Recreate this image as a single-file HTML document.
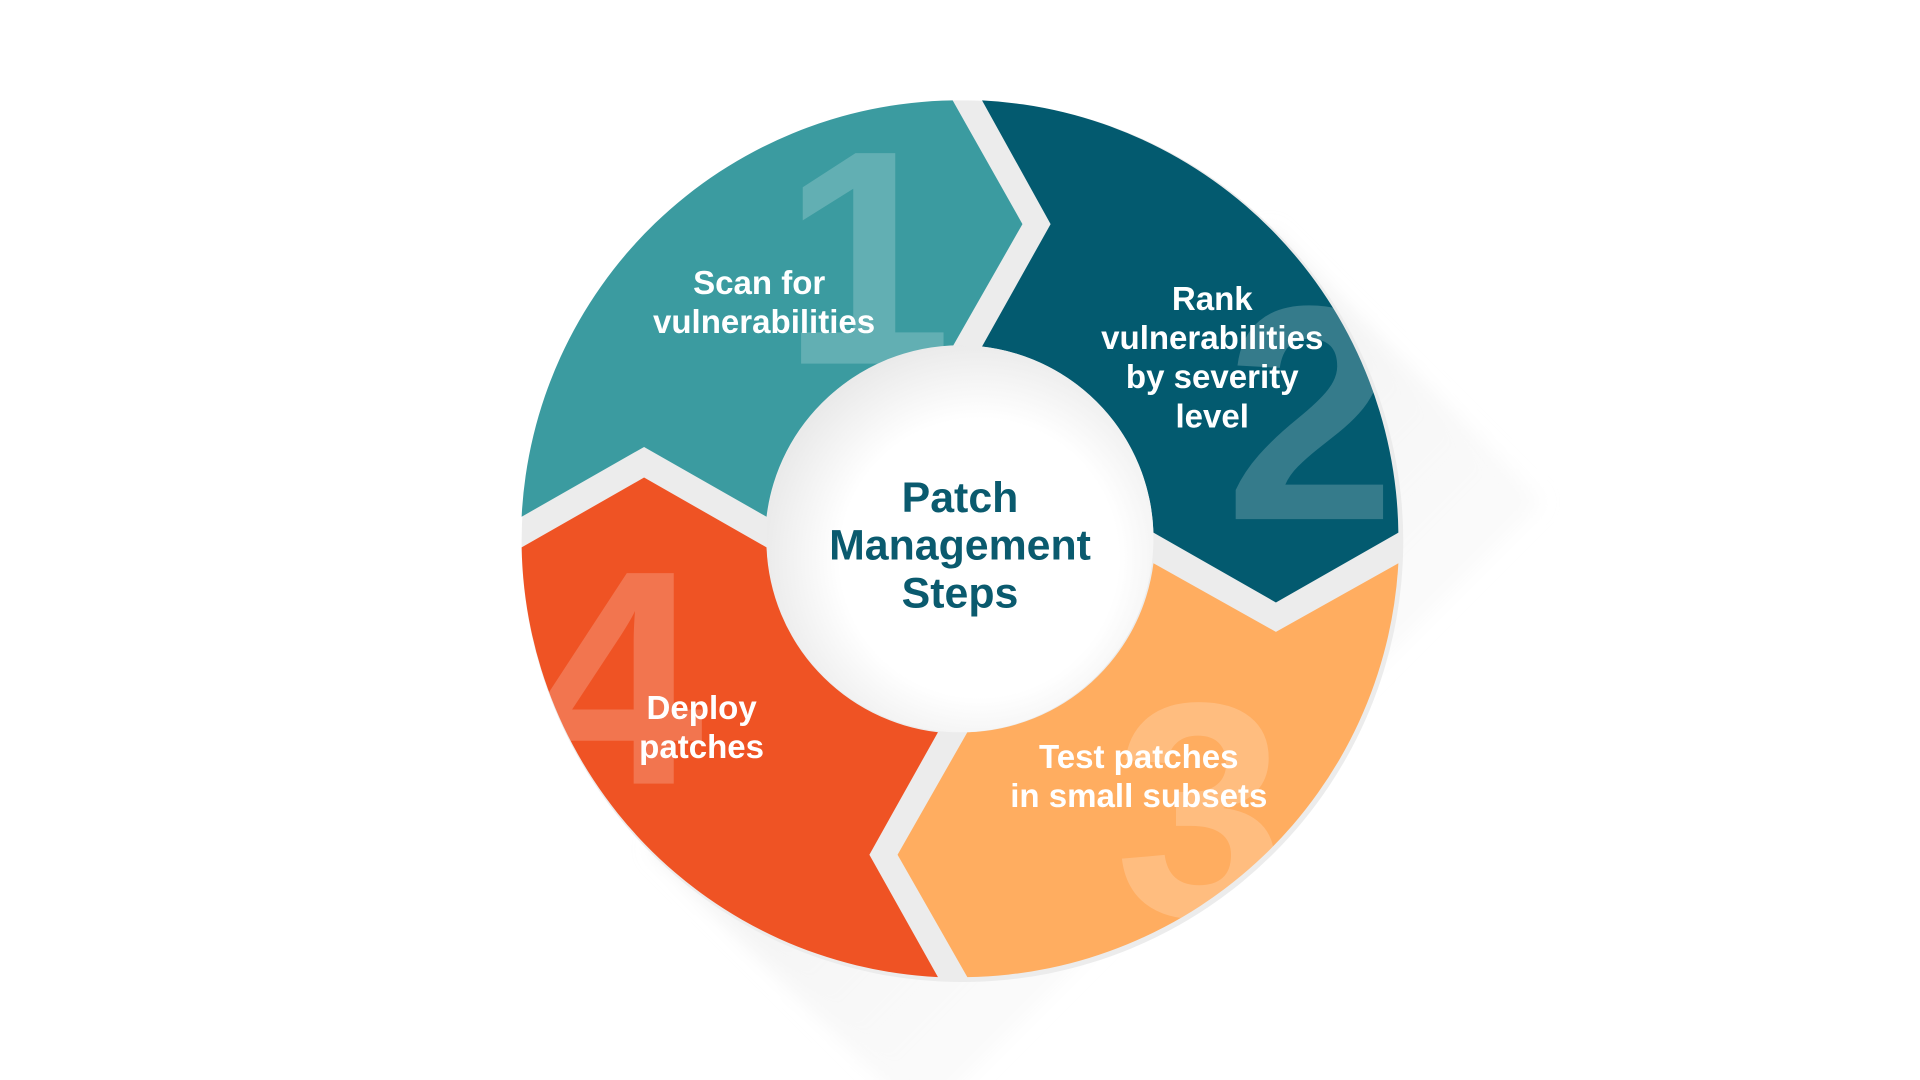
<!DOCTYPE html>
<html><head><meta charset="utf-8"><style>
html,body{margin:0;padding:0;background:#fff;width:1920px;height:1080px;overflow:hidden;position:relative}
svg{display:block;position:absolute;left:0;top:0}
</style></head><body>
<svg width="1920" height="1080" viewBox="0 0 1568 882" xmlns="http://www.w3.org/2000/svg">
<defs>
<linearGradient id="sh" x1="0" y1="0" x2="1" y2="1">
<stop offset="0" stop-color="#d6d6d6" stop-opacity="0.8"/>
<stop offset="0.5" stop-color="#ebebeb" stop-opacity="0.45"/>
<stop offset="1" stop-color="#fff" stop-opacity="0"/>
</linearGradient>
<filter id="bl" x="-20%" y="-20%" width="140%" height="140%"><feGaussianBlur stdDeviation="8"/></filter>
<radialGradient id="ic" cx="0.55" cy="0.55" r="0.6">
<stop offset="0.6" stop-color="#ffffff"/>
<stop offset="1" stop-color="#e6e6e6"/>
</radialGradient>
<clipPath id="c1"><path d="M426,422 A358,358 0 0 1 778,82 L835,183 L778,283 A158,158 0 0 0 626,422 L526,365 Z"/></clipPath>
<clipPath id="c2"><path d="M802,82 A358,358 0 0 1 1142,435 L1042,492 L942,435 A158,158 0 0 0 802,283 L858,183 Z"/></clipPath>
<clipPath id="c3"><path d="M1142,460 A358,358 0 0 1 790,798 L733,698 L790,598 A158,158 0 0 0 942,460 L1042,516 Z"/></clipPath>
<clipPath id="c4"><path d="M766,798 A358,358 0 0 1 426,447 L526,390 L626,447 A158,158 0 0 0 766,598 L710,698 Z"/></clipPath>
</defs>
<polygon points="531,693 1037,187 1260,410 754,916" fill="url(#sh)" filter="url(#bl)"/>
<circle cx="786" cy="442" r="360" fill="#ececec"/>
<path d="M426,422 A358,358 0 0 1 778,82 L835,183 L778,283 A158,158 0 0 0 626,422 L526,365 Z" fill="#3b9ba0"/>
<path d="M802,82 A358,358 0 0 1 1142,435 L1042,492 L942,435 A158,158 0 0 0 802,283 L858,183 Z" fill="#035a6f"/>
<path d="M1142,460 A358,358 0 0 1 790,798 L733,698 L790,598 A158,158 0 0 0 942,460 L1042,516 Z" fill="#ffad60"/>
<path d="M766,798 A358,358 0 0 1 426,447 L526,390 L626,447 A158,158 0 0 0 766,598 L710,698 Z" fill="#ef5324"/>
<g font-family="Liberation Sans, sans-serif" font-weight="bold" fill="#ffffff" fill-opacity="0.2" font-size="250">
<text x="708" y="297" text-anchor="middle" clip-path="url(#c1)">1</text>
<text x="1070" y="424" text-anchor="middle" clip-path="url(#c2)">2</text>
<text x="980" y="748" text-anchor="middle" clip-path="url(#c3)">3</text>
<text x="505" y="640" text-anchor="middle" clip-path="url(#c4)">4</text>
</g>
<circle cx="784" cy="440" r="158" fill="url(#ic)"/>
<g font-family="Liberation Sans, sans-serif" font-weight="bold" fill="#ffffff" font-size="27" text-anchor="middle">
<text x="620" y="240">Scan for</text>
<text x="624" y="272">vulnerabilities</text>
<text x="990" y="253">Rank</text>
<text x="990" y="285">vulnerabilities</text>
<text x="990" y="317">by severity</text>
<text x="990" y="349">level</text>
<text x="930" y="627">Test patches</text>
<text x="930" y="659">in small subsets</text>
<text x="573" y="587">Deploy</text>
<text x="573" y="619">patches</text>
</g>
<g font-family="Liberation Sans, sans-serif" font-weight="bold" fill="#0a5a6e" font-size="35" text-anchor="middle">
<text x="784" y="418">Patch</text>
<text x="784" y="457">Management</text>
<text x="784" y="496">Steps</text>
</g>
</svg>
</body></html>
